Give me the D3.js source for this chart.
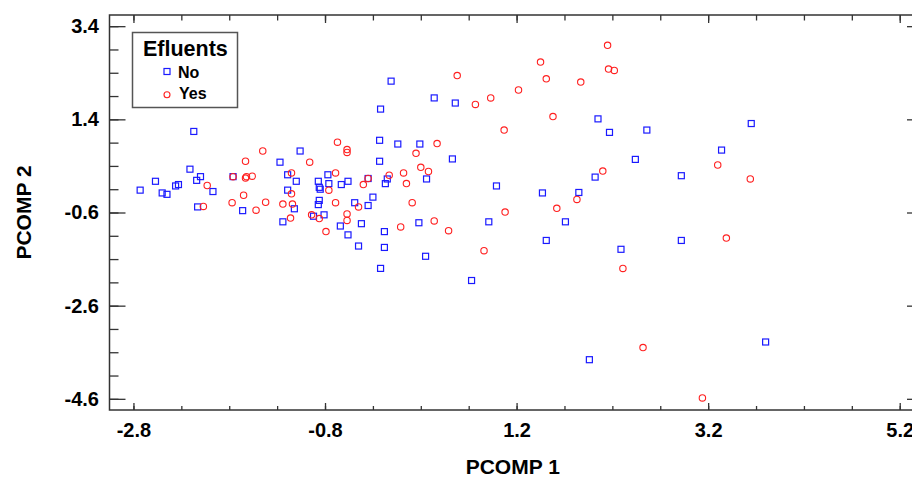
<!DOCTYPE html>
<html>
<head>
<meta charset="utf-8">
<script src="https://cdn.jsdelivr.net/npm/d3@7"></script>
<style>
	body { margin: 0; background: #fff; }
	svg text { font-family: 'Liberation Sans', Arial, sans-serif; font-weight: bold; fill: #000; }
</style>
</head>
<body>
<div id="chart"></div>
<script>
// group "No" (blue squares)
const noX = [-0.11, -0.22, -2.17, -0.23, -0.04, -1.06, -0.23, -1.27, -2.21, -1.19,
	-2.10, -0.77, -1.76, -2.57, -2.14, -1.10, -0.87, -0.76, -0.63, -0.56,
	-0.35, -0.15, -0.17, -2.73, -2.50, -2.45, -2.36, -2.33, -1.97, -1.19,
	-0.86, -0.85, -2.13, -1.66, -1.12, -0.86, -0.87, -0.49, -0.35, -0.30,
	-1.24, -0.92, -0.81, -0.64, -0.56, -0.42, -0.18, -0.45, -0.18, 0.34,
	0.56, 0.19, 0.53, 0.26, 0.99, 1.47, 1.85, 2.02, 2.05, 2.17,
	0.18, -0.22, 0.25, 0.73, 0.91, 1.51, 1.71, 2.29, 2.56, 3.65,
	3.34, 2.44, 2.92, 2.92, 3.80, 1.96];
const noY = [2.22, 1.62, 1.14, 0.95, 0.87, 0.72, 0.50, 0.48, 0.33, 0.21,
	0.17, 0.21, 0.17, 0.07, 0.09, 0.07, 0.07, 0.02, 0.00, 0.07,
	0.13, 0.12, 0.02, -0.12, -0.18, -0.21, -0.03, 0.00, -0.15, -0.12,
	-0.06, -0.10, -0.48, -0.56, -0.52, -0.34, -0.43, -0.39, -0.45, -0.27,
	-0.80, -0.68, -0.65, -0.89, -1.08, -0.84, -1.01, -1.32, -1.35, 1.86,
	1.75, 0.87, 0.55, 0.12, -0.03, -0.18, -0.17, 0.16, 1.41, 1.12,
	-0.82, -1.80, -1.54, -2.06, -0.80, -1.20, -0.80, -1.39, 1.17, 1.31,
	0.74, 0.54, 0.19, -1.20, -3.38, -3.76];

// group "Yes" (red circles)
const yesX = [-0.67, -0.57, -0.57, -1.45, -1.63, -0.96, -1.76, -1.62, -1.63, -1.56,
	-1.15, -0.69, -2.03, -1.65, -1.15, -0.76, -0.40, -0.35, -0.13, -1.77,
	-2.07, -1.42, -1.52, -1.24, -1.14, -0.69, -0.45, -1.16, -0.94, -0.86,
	-0.57, -0.57, -0.79, -0.01, 2.15, 1.45, 1.51, 2.16, 2.22, 1.87,
	0.58, 0.93, 0.77, 1.22, 1.58, 1.07, 0.37, 0.15, 0.20, 0.28,
	0.02, 0.05, 2.10, 0.11, 1.08, 1.83, 1.62, 0.34, 0.49, 0.86,
	2.31, 3.30, 3.64, 3.39, 2.52, 3.14];
const yesY = [0.91, 0.75, 0.69, 0.72, 0.50, 0.48, 0.17, 0.17, 0.14, 0.18,
	0.25, 0.25, -0.02, -0.23, -0.20, -0.12, 0.00, 0.13, 0.20, -0.39,
	-0.47, -0.38, -0.55, -0.42, -0.42, -0.39, -0.48, -0.72, -0.65, -0.73,
	-0.63, -0.77, -1.01, -0.91, 2.99, 2.63, 2.27, 2.48, 2.45, 2.20,
	2.34, 1.86, 1.72, 2.03, 1.46, 1.17, 0.88, 0.67, 0.37, 0.28,
	0.25, 0.02, 0.29, -0.39, -0.59, -0.32, -0.51, -0.78, -0.99, -1.42,
	-1.80, 0.42, 0.12, -1.15, -3.50, -4.58];

const xMajor = [-2.8, -0.8, 1.2, 3.2, 5.2];
const yMajor = [3.4, 1.4, -0.6, -2.6, -4.6];
const xTickLabels = ['-2.8', '-0.8', '1.2', '3.2', '5.2'];
const yTickLabels = ['3.4', '1.4', '-0.6', '-2.6', '-4.6'];
const groups = ['No', 'Yes'];
const legendTitle = 'Efluents';
const xTitle = 'PCOMP 1';
const yTitle = 'PCOMP 2';

var width = 912, height = 480;
var plot = { left: 109.5, right: 916, top: 15, bottom: 410 };

var svg = d3.select('#chart')
	.append('svg')
	.attr('width', width)
	.attr('height', height);

var x = d3.scaleLinear().domain([-3.05, 5.37]).range([plot.left, plot.right]);
var y = d3.scaleLinear().domain([-4.84, 3.64]).range([plot.bottom, plot.top]);

// minor ticks every 0.5 between the labelled ones
var xMinor = d3.range(0, 17).map((i) => +(-2.8 + i * 0.5).toFixed(1));
var yMinor = d3.range(0, 17).map((i) => +(-4.6 + i * 0.5).toFixed(1));

var axisColor = '#333';

function styleAxis(g) {
	g.select('.domain').remove();
	g.selectAll('line').attr('stroke', axisColor).attr('stroke-width', 1.3);
}

// bottom
svg.append('g').attr('transform', 'translate(0,' + plot.bottom + ')')
	.call(d3.axisBottom(x).tickValues(xMinor).tickSizeInner(-4).tickSizeOuter(0).tickFormat(''))
	.call(styleAxis);
svg.append('g').attr('transform', 'translate(0,' + plot.bottom + ')')
	.call(d3.axisBottom(x).tickValues(xMajor).tickSizeInner(-7).tickSizeOuter(0).tickPadding(13)
		.tickFormat((d, i) => xTickLabels[i]))
	.call(styleAxis)
	.selectAll('text').style('font-size', '20px').attr('font-family', null);

// top
svg.append('g').attr('transform', 'translate(0,' + plot.top + ')')
	.call(d3.axisTop(x).tickValues(xMinor).tickSizeInner(-5.5).tickSizeOuter(0).tickFormat(''))
	.call(styleAxis);
svg.append('g').attr('transform', 'translate(0,' + plot.top + ')')
	.call(d3.axisTop(x).tickValues(xMajor).tickSizeInner(-8).tickSizeOuter(0).tickFormat(''))
	.call(styleAxis);

// left
svg.append('g').attr('transform', 'translate(' + plot.left + ',0)')
	.call(d3.axisLeft(y).tickValues(yMinor).tickSizeInner(-9).tickSizeOuter(0).tickFormat(''))
	.call(styleAxis);
svg.append('g').attr('transform', 'translate(' + plot.left + ',0)')
	.call(d3.axisLeft(y).tickValues(yMajor).tickSizeInner(-16).tickSizeOuter(0).tickPadding(10.5)
		.tickFormat((d, i) => yTickLabels[i]))
	.call(styleAxis)
	.selectAll('text').style('font-size', '20px').attr('font-family', null);

// right
svg.append('g').attr('transform', 'translate(' + plot.right + ',0)')
	.call(d3.axisRight(y).tickValues(yMinor).tickSizeInner(-4).tickSizeOuter(0).tickFormat(''))
	.call(styleAxis);
svg.append('g').attr('transform', 'translate(' + plot.right + ',0)')
	.call(d3.axisRight(y).tickValues(yMajor).tickSizeInner(-9).tickSizeOuter(0).tickFormat(''))
	.call(styleAxis);

// frame
svg.append('rect')
	.attr('x', plot.left).attr('y', plot.top)
	.attr('width', plot.right - plot.left).attr('height', plot.bottom - plot.top)
	.attr('fill', 'none')
	.attr('stroke', axisColor)
	.attr('stroke-width', 1.5);

// points
var noData = noX.map((v, i) => ({ x: v, y: noY[i] }));
var yesData = yesX.map((v, i) => ({ x: v, y: yesY[i] }));
var sq = 6;

svg.append('g')
	.selectAll('rect')
	.data(noData)
	.enter()
	.append('rect')
	.attr('x', (d) => x(d.x) - sq / 2)
	.attr('y', (d) => y(d.y) - sq / 2)
	.attr('width', sq)
	.attr('height', sq)
	.attr('fill', 'none')
	.attr('stroke', '#1a1aff')
	.attr('stroke-width', 1.2);

svg.append('g')
	.selectAll('circle')
	.data(yesData)
	.enter()
	.append('circle')
	.attr('cx', (d) => x(d.x))
	.attr('cy', (d) => y(d.y))
	.attr('r', 3.2)
	.attr('fill', 'none')
	.attr('stroke', '#ff2020')
	.attr('stroke-width', 1.1);

// axis titles
svg.append('text')
	.attr('x', (plot.left + plot.right) / 2)
	.attr('y', 474)
	.attr('text-anchor', 'middle')
	.style('font-size', '21px')
	.text(xTitle);

svg.append('text')
	.attr('transform', 'translate(31,' + (plot.top + plot.bottom) / 2 + ') rotate(-90)')
	.attr('text-anchor', 'middle')
	.style('font-size', '21px')
	.text(yTitle);

// legend
var legend = svg.append('g');
legend.append('rect')
	.attr('x', 132.5).attr('y', 32.5)
	.attr('width', 105).attr('height', 75)
	.attr('fill', '#fff')
	.attr('stroke', '#555')
	.attr('stroke-width', 1.5);
legend.append('text')
	.attr('x', 143).attr('y', 56)
	.style('font-size', '21.5px')
	.text(legendTitle);
legend.append('rect')
	.attr('x', 164).attr('y', 68.5)
	.attr('width', 6).attr('height', 6)
	.attr('fill', 'none')
	.attr('stroke', '#1a1aff')
	.attr('stroke-width', 1.2);
legend.append('text')
	.attr('x', 178).attr('y', 78)
	.style('font-size', '16px')
	.text(groups[0]);
legend.append('circle')
	.attr('cx', 167).attr('cy', 94.7).attr('r', 3)
	.attr('fill', 'none')
	.attr('stroke', '#ff2020')
	.attr('stroke-width', 1.1);
legend.append('text')
	.attr('x', 179).attr('y', 99)
	.style('font-size', '16px')
	.text(groups[1]);
</script>
</body>
</html>
